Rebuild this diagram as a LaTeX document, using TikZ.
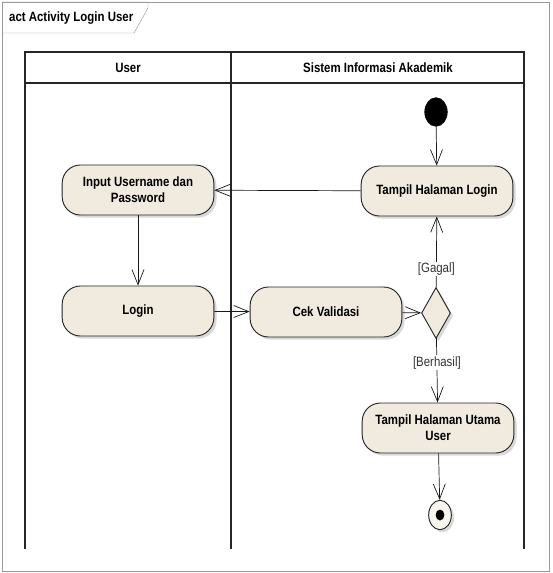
\documentclass[tikz,border=0pt]{standalone}
\usepackage{fontspec}
\setmainfont{Liberation Sans}[FakeStretch=0.85]
\usetikzlibrary{arrows.meta,shapes.geometric,shadows}
\definecolor{actfill}{RGB}{241,235,223}

\begin{document}
\begin{tikzpicture}[x=0.03cm,y=-0.03cm,
  act/.style={draw=black!85,thick,fill=actfill,rounded corners=0.55cm,
    minimum width=4.55cm,minimum height=1.5cm,align=center,
    font=\fontsize{11.5}{13.5}\selectfont\bfseries,
    drop shadow={opacity=0.3,shadow xshift=0.08cm,shadow yshift=-0.08cm}},
  flow/.style={-{Straight Barb[length=0.45cm,width=0.36cm]},semithick,black!90},
  guard/.style={fill=white,inner sep=1pt,font=\fontsize{11.5}{13}\selectfont,text=black!80},
  lane/.style={very thick,black!85}]
\useasboundingbox (0,0) rectangle (552,573);
% frame
\draw[gray!80] (2,2) rectangle (549,571);
\draw[gray!80] (2,2) -- (148,2) -- (148,8) -- (134,33) -- (2,33);
\node[anchor=west,font=\fontsize{11.5}{13}\selectfont\bfseries] (title) at (5,18) {act Activity Login User};
% swimlanes
\draw[lane] (25,549) -- (25,52) -- (524,52) -- (524,549);
\draw[lane] (25,83) -- (524,83);
\draw[lane] (231,52) -- (231,549);
\node[font=\fontsize{11.5}{13}\selectfont\bfseries] (userlane) at (128,68) {User};
\node[font=\fontsize{11.5}{13}\selectfont\bfseries] (siakad) at (378,68) {Sistem Informasi Akademik};
% nodes
\node[draw,fill=black,ellipse,minimum width=0.68cm,minimum height=0.86cm,inner sep=0pt] (start) at (436,112) {};
\node[act] (loginpage) at (437,191) {Tampil Halaman Login};
\node[act] (input) at (138,190) {Input Username dan\\Password};
\node[act] (login) at (138,311) {Login};
\node[act] (cek) at (326,312) {Cek Validasi};
\node[draw=black!85,thick,fill=actfill,diamond,minimum width=0.87cm,minimum height=1.53cm,inner sep=0pt,
  drop shadow={opacity=0.3,shadow xshift=0.08cm,shadow yshift=-0.08cm}] (dec) at (436,313) {};
\node[act] (utama) at (438,428) {Tampil Halaman Utama\\User};
\node[draw=black!85,thick,fill=actfill!50,ellipse,minimum width=0.68cm,minimum height=0.88cm,inner sep=0pt,
  drop shadow={opacity=0.3,shadow xshift=0.08cm,shadow yshift=-0.08cm}] (final) at (440,515) {};
\node[fill=black,ellipse,minimum width=0.26cm,minimum height=0.33cm,inner sep=0pt] (finaldot) at (final) {};
% flows
\draw[flow] (start) -- (loginpage);
\draw[flow] (loginpage) -- (input);
\draw[flow] (input) -- (login);
\draw[flow] (login) -- (cek);
\draw[flow] (cek) -- (dec);
\draw[flow] (dec) -- node[guard,pos=0.26] {[Gagal]} (loginpage);
\draw[flow] (dec) -- node[guard,pos=0.38] {[Berhasil]} (utama);
\draw[flow] (utama) -- (final);
\end{tikzpicture}
\end{document}
